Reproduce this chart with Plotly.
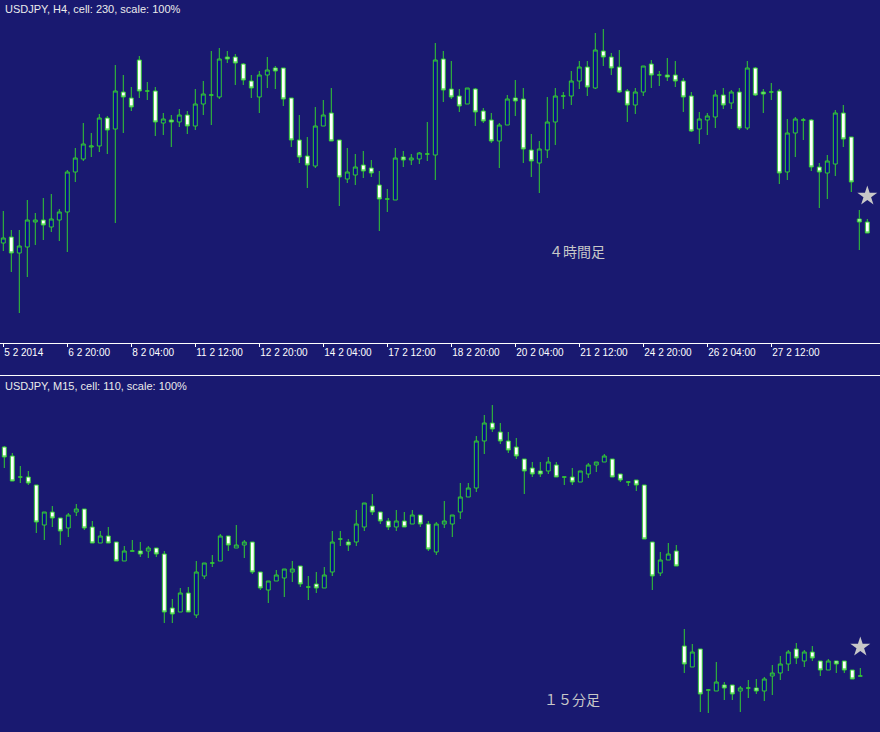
import plotly.graph_objects as go

# ---------------- H4 (top panel) ----------------
h4_open = [101.57,101.63,101.47,101.53,101.78,101.80,101.73,101.80,101.88,102.28,
           102.41,102.53,102.54,102.82,102.71,103.08,103.02,103.40,103.09,103.09,
           102.77,102.80,102.78,102.85,102.74,102.96,103.05,103.03,103.43,103.43,
           103.36,103.19,103.03,103.25,103.32,103.32,103.02,102.60,102.44,102.34,
           102.74,102.87,102.60,102.21,102.25,102.35,102.32,102.15,102.01,102.00,
           102.43,102.40,102.41,102.46,102.45,103.41,103.11,103.04,102.96,103.11,
           102.89,102.80,102.59,102.75,103.02,103.01,102.50,102.37,102.50,102.78,
           103.04,103.04,103.19,103.33,103.12,103.49,103.43,103.33,103.09,102.95,
           103.08,103.36,103.25,103.25,103.25,103.19,103.04,102.71,102.80,102.83,
           103.05,102.97,103.08,102.72,103.32,103.08,103.08,103.09,102.28,102.67,
           102.80,102.80,102.33,102.27,102.36,102.87,102.63,101.81,101.78]
h4_high = [101.89,101.70,101.70,102.00,101.87,102.02,102.06,101.91,102.30,102.52,
           102.77,102.67,102.86,102.84,103.35,103.25,103.13,103.44,103.18,103.13,
           102.87,102.85,102.91,102.89,103.11,103.19,103.49,103.52,103.49,103.46,
           103.37,103.25,103.29,103.43,103.34,103.32,103.02,102.85,102.63,102.93,
           103.00,103.12,102.60,102.52,102.46,102.49,102.40,102.29,102.11,102.52,
           102.49,102.46,102.48,102.78,103.57,103.49,103.39,103.11,103.12,103.12,
           102.92,102.87,102.77,103.05,103.20,103.12,102.66,102.59,103.03,103.12,
           103.08,103.29,103.39,103.39,103.67,103.71,103.47,103.50,103.11,103.12,
           103.34,103.40,103.29,103.42,103.39,103.22,103.08,102.88,102.87,103.10,
           103.12,103.10,103.12,103.39,103.33,103.11,103.17,103.11,102.81,102.83,
           102.82,102.81,102.37,102.45,102.90,102.95,102.63,101.90,101.81]
h4_low = [101.49,101.28,100.87,101.23,101.55,101.60,101.68,101.59,101.48,102.18,
          102.39,102.43,102.48,102.46,101.77,102.67,102.89,103.02,103.00,102.64,
          102.65,102.53,102.73,102.66,102.70,102.85,102.75,103.01,103.37,103.15,
          103.15,103.02,102.87,103.12,103.11,102.94,102.53,102.37,102.12,102.32,
          102.74,102.59,101.94,102.17,102.15,102.22,102.23,101.69,101.88,102.00,
          102.33,102.35,102.36,102.39,102.20,102.98,103.01,102.88,102.96,102.74,
          102.77,102.57,102.32,102.75,102.84,102.37,102.23,102.07,102.42,102.55,
          102.91,102.95,103.11,103.04,103.11,103.34,103.25,103.07,102.78,102.86,
          103.04,103.12,103.14,103.19,103.13,102.88,102.68,102.56,102.65,102.72,
          102.91,102.91,102.70,102.70,103.04,102.87,103.00,102.16,102.20,102.43,
          102.60,102.29,101.92,102.01,102.24,102.53,102.08,101.50,101.67]
h4_close = [101.62,101.47,101.54,101.80,101.80,101.75,101.81,101.88,102.28,102.42,
            102.56,102.54,102.82,102.70,103.09,103.03,102.93,103.09,103.09,102.78,
            102.81,102.78,102.85,102.74,102.96,103.06,103.05,103.41,103.41,103.37,
            103.20,103.12,103.25,103.30,103.29,103.01,102.60,102.43,102.35,102.74,
            102.85,102.59,102.23,102.28,102.33,102.29,102.27,102.01,102.01,102.42,
            102.40,102.42,102.47,102.46,103.40,103.10,103.03,102.94,103.12,102.88,
            102.79,102.59,102.75,103.01,102.99,102.51,102.39,102.51,102.78,103.04,
            103.04,103.19,103.33,103.13,103.50,103.43,103.32,103.08,102.95,103.08,
            103.34,103.25,103.25,103.23,103.19,103.03,102.69,102.81,102.84,103.05,
            102.95,103.08,102.72,103.32,103.05,103.06,103.08,102.27,102.67,102.81,
            102.80,102.33,102.28,102.39,102.87,102.61,102.18,101.78,101.67]
h4_tickbars = [0, 8, 16, 24, 32, 40, 48, 56, 64, 72, 80, 88, 96]
h4_ticklabels = ["5 2 2014", "6 2 20:00", "8 2 04:00", "11 2 12:00", "12 2 20:00",
                 "14 2 04:00", "17 2 12:00", "18 2 20:00", "20 2 04:00", "21 2 12:00",
                 "24 2 20:00", "26 2 04:00", "27 2 12:00"]
h4_star = (108, 102.04)

# ---------------- M15 (bottom panel) ----------------
m15_open = [101.53,101.44,101.23,101.23,101.15,100.75,100.88,100.82,100.72,100.88,
            100.91,100.73,100.57,100.64,100.58,100.39,100.49,100.49,100.49,100.52,
            100.46,99.92,99.88,100.07,99.85,100.24,100.37,100.39,100.64,100.52,
            100.55,100.58,100.28,100.10,100.19,100.22,100.28,100.34,100.13,100.16,
            100.12,100.28,100.61,100.58,100.58,100.73,100.94,100.88,100.79,100.73,
            100.79,100.76,100.85,100.76,100.48,100.76,100.76,100.88,101.03,101.12,
            101.59,101.77,101.68,101.59,101.53,101.41,101.32,101.29,101.29,101.35,
            101.23,101.23,101.18,101.26,101.35,101.38,101.41,101.26,101.18,101.20,
            101.15,100.58,100.27,100.40,100.49,99.54,99.33,99.51,99.10,99.09,
            99.15,99.15,99.09,99.12,99.12,99.09,99.24,99.27,99.36,99.51,
            99.39,99.48,99.39,99.30,99.39,99.39,99.30,99.24]
m15_high = [101.54,101.47,101.34,101.29,101.15,100.88,100.94,100.82,100.87,100.96,
            100.91,100.79,100.69,100.73,100.58,100.54,100.60,100.58,100.54,100.52,
            100.49,100.01,100.12,100.13,100.39,100.37,100.45,100.66,100.64,100.75,
            100.60,100.58,100.28,100.19,100.30,100.31,100.39,100.34,100.24,100.28,
            100.33,100.69,100.69,100.61,100.90,100.97,101.06,100.88,100.82,100.90,
            100.88,100.90,100.85,100.79,100.78,100.99,100.85,101.17,101.17,101.64,
            101.85,101.95,101.77,101.68,101.62,101.41,101.38,101.38,101.43,101.38,
            101.23,101.32,101.29,101.37,101.38,101.46,101.41,101.26,101.19,101.20,
            101.15,100.58,100.48,100.57,100.55,99.71,99.56,99.51,99.11,99.38,
            99.18,99.15,99.14,99.20,99.21,99.23,99.35,99.44,99.50,99.57,
            99.50,99.54,99.39,99.41,99.39,99.39,99.30,99.32]
m15_low = [101.32,101.19,101.17,101.15,100.67,100.60,100.73,100.55,100.63,100.84,
           100.70,100.57,100.57,100.57,100.39,100.39,100.49,100.43,100.42,100.43,
           99.77,99.77,99.88,99.88,99.82,100.21,100.33,100.39,100.49,100.52,
           100.42,100.26,100.10,99.97,100.19,100.03,100.18,100.13,100.00,100.07,
           100.12,100.24,100.54,100.49,100.54,100.69,100.85,100.76,100.70,100.69,
           100.73,100.76,100.73,100.49,100.45,100.72,100.63,100.81,101.03,101.08,
           101.46,101.68,101.56,101.47,101.41,101.06,101.23,101.23,101.26,101.23,
           101.15,101.15,101.18,101.22,101.28,101.38,101.23,101.18,101.14,101.09,
           100.61,100.10,100.24,100.40,100.34,99.27,99.33,98.88,98.87,99.09,
           99.00,99.00,98.88,99.02,99.06,98.99,99.05,99.20,99.29,99.36,
           99.33,99.39,99.24,99.30,99.27,99.27,99.21,99.24]
m15_close = [101.43,101.19,101.23,101.17,100.78,100.88,100.82,100.69,100.85,100.91,
             100.72,100.57,100.64,100.57,100.39,100.49,100.49,100.46,100.52,100.46,
             99.88,99.86,100.07,99.88,100.28,100.37,100.37,100.64,100.55,100.55,
             100.58,100.28,100.12,100.19,100.25,100.31,100.31,100.16,100.13,100.12,
             100.25,100.58,100.61,100.55,100.76,100.97,100.88,100.79,100.73,100.79,
             100.73,100.85,100.76,100.51,100.76,100.79,100.85,101.03,101.12,101.59,
             101.77,101.71,101.59,101.50,101.44,101.29,101.26,101.26,101.38,101.23,
             101.23,101.18,101.29,101.35,101.38,101.44,101.23,101.20,101.18,101.15,
             100.61,100.24,100.40,100.46,100.34,99.36,99.48,99.06,99.10,99.18,
             99.12,99.06,99.12,99.12,99.09,99.21,99.27,99.36,99.48,99.42,
             99.48,99.42,99.30,99.39,99.36,99.30,99.21,99.24]
m15_star = (107, 99.53)

# ---------------- styling ----------------
W, H = 880, 732
BG = "#191970"
GREEN = "#33cc33"
UPFILL = "#0a0a8c"
DOWNFILL = "#ffffff"

top_px = 342.5      # pixel y of top axis line
bot_top_px = 376    # pixel y where bottom panel starts

fig = go.Figure()

def candle(xs, o, h, l, c, xa, ya):
    return go.Candlestick(
        x=xs, open=o, high=h, low=l, close=c, xaxis=xa, yaxis=ya,
        increasing=dict(line=dict(color=GREEN, width=1), fillcolor=UPFILL),
        decreasing=dict(line=dict(color=GREEN, width=1), fillcolor=DOWNFILL),
        whiskerwidth=0, showlegend=False, hoverinfo="skip")

fig.add_trace(candle(list(range(len(h4_open))), h4_open, h4_high, h4_low, h4_close, "x", "y"))
fig.add_trace(candle(list(range(len(m15_open))), m15_open, m15_high, m15_low, m15_close, "x2", "y2"))

fig.add_trace(go.Scatter(x=[h4_star[0]], y=[h4_star[1]], mode="markers", xaxis="x", yaxis="y",
                         marker=dict(symbol="star", size=15, color="#c8c8c8", line=dict(width=0)),
                         showlegend=False, hoverinfo="skip"))
fig.add_trace(go.Scatter(x=[m15_star[0]], y=[m15_star[1]], mode="markers", xaxis="x2", yaxis="y2",
                         marker=dict(symbol="star", size=15, color="#c8c8c8", line=dict(width=0)),
                         showlegend=False, hoverinfo="skip"))

dom_top = [1 - top_px / H, 1]
dom_bot = [0, 1 - bot_top_px / H]

# pixel -> price mapping: top 104.00 at y=0, 0.01 per px; bottom 106.00 at y=0
fig.update_layout(
    width=W, height=H,
    margin=dict(l=0, r=0, t=0, b=0, autoexpand=False),
    paper_bgcolor=BG, plot_bgcolor=BG,
    boxgap=0.3,
    showlegend=False,
    xaxis=dict(domain=[0, 1], anchor="y", range=[-3.3 / 8, (W - 3.3) / 8],
               rangeslider=dict(visible=False), showgrid=False, zeroline=False,
               showline=True, linecolor="#ffffff", linewidth=1,
               ticks="outside", ticklen=3, tickcolor="#ffffff", tickwidth=1,
               tickmode="array", tickvals=h4_tickbars, ticktext=h4_ticklabels,
               ticklabelposition="outside right",
               tickfont=dict(family="Liberation Sans, Arial", size=10, color="#ffffff")),
    yaxis=dict(domain=dom_top, anchor="x", range=[104.00 - top_px / 100, 104.00],
               showgrid=False, zeroline=False, showticklabels=False, ticks=""),
    xaxis2=dict(domain=[0, 1], anchor="y2", range=[-4.3 / 8, (W - 4.3) / 8],
                rangeslider=dict(visible=False), visible=False),
    yaxis2=dict(domain=dom_bot, anchor="x2", range=[106.00 - H / 100, 106.00 - bot_top_px / 100],
                showgrid=False, zeroline=False, showticklabels=False, ticks=""),
    shapes=[dict(type="line", xref="paper", yref="paper", x0=0, x1=1,
                 y0=1 - 375.5 / H, y1=1 - 375.5 / H, line=dict(color="#ffffff", width=1))],
)

ann_font = dict(family="Liberation Sans, Arial", size=11, color="#ebebeb")
jp_font = dict(family="Noto Sans CJK JP", size=14, color="#c8c8c8")
fig.add_annotation(text="USDJPY, H4, cell: 230, scale: 100%", xref="paper", yref="paper",
                   x=3 / W, y=1 - 9.5 / H, xanchor="left", yanchor="middle",
                   showarrow=False, font=ann_font)
fig.add_annotation(text="USDJPY, M15, cell: 110, scale: 100%", xref="paper", yref="paper",
                   x=3 / W, y=1 - 386 / H, xanchor="left", yanchor="middle",
                   showarrow=False, font=ann_font)
fig.add_annotation(text="４時間足", xref="paper", yref="paper",
                   x=577 / W, y=1 - 251 / H, xanchor="center", yanchor="middle",
                   showarrow=False, font=jp_font)
fig.add_annotation(text="１５分足", xref="paper", yref="paper",
                   x=572 / W, y=1 - 699 / H, xanchor="center", yanchor="middle",
                   showarrow=False, font=jp_font)

fig.write_html("out.html",
               config={"displayModeBar": False, "staticPlot": True},
               post_script="document.body.style.margin='0';"
                           "document.body.style.background='#191970';"
                           "document.body.style.overflow='hidden';")
